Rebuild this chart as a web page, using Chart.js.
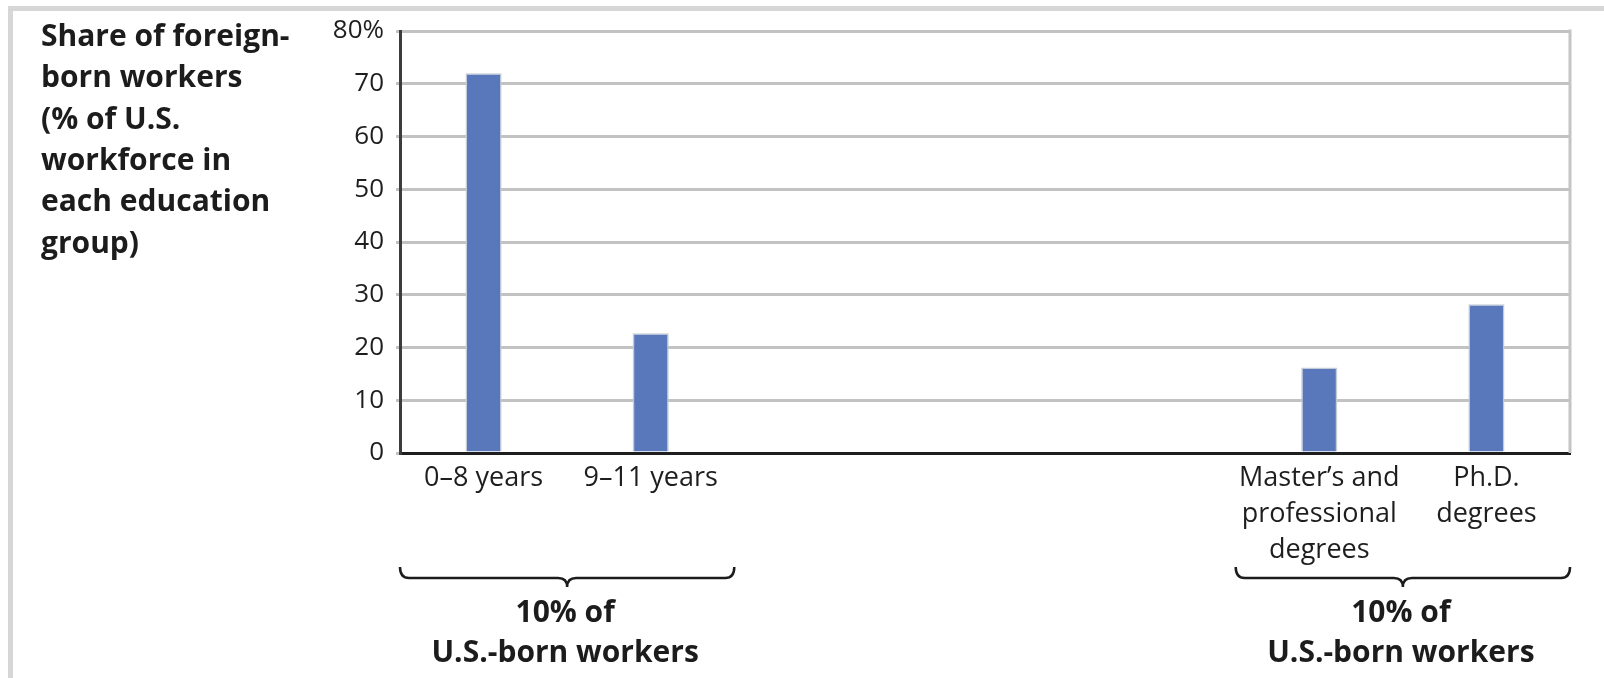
<!DOCTYPE html>
<html>
<head>
<meta charset="utf-8">
<title>Share of foreign-born workers by education group</title>
<script src="https://cdn.jsdelivr.net/npm/chart.js@4.4.1/dist/chart.umd.min.js"></script>
<style>
  html, body { margin: 0; padding: 0; background: #ffffff; }
  canvas { display: block; }
</style>
</head>
<body>
<canvas id="chart" width="1604" height="678"></canvas>
<script>
// Education groups along the horizontal axis (middle groups carry no bar)
const categories = [
  '0–8 years',
  '9–11 years',
  '',
  '',
  '',
  ['Master’s and', 'professional', 'degrees'],
  ['Ph.D.', 'degrees']
];

// Foreign-born share of the workforce in each group (%)
const foreignShare = [72, 22.7, null, null, null, 16.2, 28.2];

// Vertical axis tick labels
const yTickValues = [0, 10, 20, 30, 40, 50, 60, 70, 80];
const yTickLabels = ['0', '10', '20', '30', '40', '50', '60', '70', '80%'];

// Axis title, one entry per line
const yTitleLines = [
  'Share of foreign-',
  'born workers',
  '(% of U.S.',
  'workforce in',
  'each education',
  'group)'
];

// Bracketed groups of categories and their captions
const groupRanges = [[0, 1], [5, 6]];
const groupCaptions = [
  ['10% of', 'U.S.-born workers'],
  ['10% of', 'U.S.-born workers']
];

const BAR_BLUE = '#5878bb';
const INK = '#1c1c1c';
const BOLD_FONT = "bold 30px 'Open Sans', 'DejaVu Sans', sans-serif";

const decorations = {
  id: 'decorations',
  beforeDraw(chart) {
    const ctx = chart.ctx;
    ctx.save();
    ctx.fillStyle = '#ffffff';
    ctx.fillRect(0, 0, chart.width, chart.height);
    // page frame (top and left rules)
    ctx.fillStyle = '#d6d6d6';
    ctx.fillRect(8, 6, chart.width - 8, 5);
    ctx.fillRect(8, 6, 5, chart.height - 6);
    ctx.restore();
  },
  afterDatasetsDraw(chart) {
    const ctx = chart.ctx;
    const area = chart.chartArea;
    const x = chart.scales.x;
    ctx.save();

    // right edge of the plot
    ctx.strokeStyle = '#c4c4c4';
    ctx.lineWidth = 3;
    ctx.beginPath();
    ctx.moveTo(area.right, area.top - 1.5);
    ctx.lineTo(area.right, area.bottom);
    ctx.stroke();

    // vertical axis title
    ctx.fillStyle = INK;
    ctx.font = BOLD_FONT;
    ctx.textAlign = 'left';
    ctx.textBaseline = 'alphabetic';
    yTitleLines.forEach((line, i) => {
      ctx.fillText(line, 41, 46 + i * 41.3);
    });

    // braces under grouped categories with captions
    const half = (x.getPixelForValue(1) - x.getPixelForValue(0)) / 2;
    groupRanges.forEach((range, g) => {
      const x0 = x.getPixelForValue(range[0]) - half;
      const x1 = x.getPixelForValue(range[1]) + half;
      const xm = (x0 + x1) / 2;
      const yTop = 567, yMid = 578, yTip = 587, r = 9;
      ctx.strokeStyle = INK;
      ctx.lineWidth = 2.5;
      ctx.beginPath();
      ctx.moveTo(x0, yTop);
      ctx.quadraticCurveTo(x0, yMid, x0 + r, yMid);
      ctx.lineTo(xm - r, yMid);
      ctx.quadraticCurveTo(xm, yMid, xm, yTip);
      ctx.quadraticCurveTo(xm, yMid, xm + r, yMid);
      ctx.lineTo(x1 - r, yMid);
      ctx.quadraticCurveTo(x1, yMid, x1, yTop);
      ctx.stroke();

      ctx.fillStyle = INK;
      ctx.font = BOLD_FONT;
      ctx.textAlign = 'center';
      groupCaptions[g].forEach((line, i) => {
        ctx.fillText(line, xm - 2, 622 + i * 40);
      });
    });
    ctx.restore();
  }
};

new Chart(document.getElementById('chart'), {
  type: 'bar',
  data: {
    labels: categories,
    datasets: [{
      data: foreignShare,
      backgroundColor: BAR_BLUE,
      borderColor: '#c3cad6',
      borderWidth: 1.5,
      borderSkipped: 'bottom',
      categoryPercentage: 1,
      barPercentage: 0.216
    }]
  },
  options: {
    responsive: false,
    devicePixelRatio: 1,
    animation: false,
    layout: { padding: { top: 31, right: 34, left: 0, bottom: 0 } },
    plugins: {
      legend: { display: false },
      tooltip: { enabled: false },
      title: { display: false }
    },
    scales: {
      x: {
        grid: { display: false, drawTicks: false },
        border: { display: true, color: '#1e1e1e', width: 3 },
        ticks: {
          autoSkip: false,
          maxRotation: 0,
          padding: 7,
          color: '#1e1e1e',
          font: { family: "'Open Sans', 'DejaVu Sans', sans-serif", size: 27, lineHeight: 1.34 }
        },
        afterFit(scale) { scale.height = 678 - 453; }
      },
      y: {
        min: 0,
        max: 80,
        afterBuildTicks(scale) {
          scale.ticks = yTickValues.map(v => ({ value: v }));
        },
        grid: {
          color: '#c2c2c2',
          lineWidth: 3,
          drawTicks: true,
          tickLength: 4
        },
        border: { display: true, color: '#3c3c3c', width: 3 },
        ticks: {
          padding: 12,
          color: '#1e1e1e',
          font: { family: "'Open Sans', sans-serif", size: 26 },
          callback(value) {
            const i = yTickValues.indexOf(value);
            return i >= 0 ? yTickLabels[i] : '';
          }
        },
        afterFit(scale) { scale.width = 400; }
      }
    }
  },
  plugins: [decorations]
});
</script>
</body>
</html>
